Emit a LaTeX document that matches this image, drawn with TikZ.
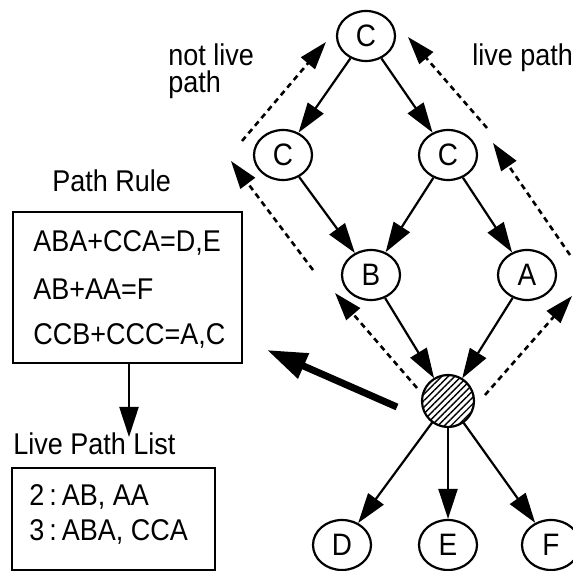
\documentclass[tikz,border=0pt]{standalone}
\usepackage{fontspec}
\setmainfont{Liberation Sans}[FakeStretch=0.9]
\usetikzlibrary{shapes.geometric,arrows.meta,patterns.meta}

\newcommand*\pixel{0.5pt}
\tikzset{
    vertex/.style={
        draw,
        ellipse,
        line width=1.1pt,
        inner sep=0pt,
        minimum width=29pt,
        minimum height=25pt,
        font=\fontsize{15.5}{18}\selectfont
    },
    hub/.style={
        draw,
        circle,
        line width=1.1pt,
        inner sep=0pt,
        minimum size=26pt,
        pattern={Lines[angle=45,distance=2.3pt,line width=0.7pt]}
    },
    link/.style={-{Triangle[length=15pt,width=9.5pt]}, line width=1.1pt},
    trace/.style={-{Triangle[length=14pt,width=9pt]}, line width=1.3pt, dash pattern=on 2.8pt off 2.2pt},
    query/.style={-{Triangle[length=20pt,width=13pt]}, line width=3.5pt},
    note/.style={anchor=base west, inner sep=0pt, align=left, font=\fontsize{15}{13.5}\selectfont},
    panel/.style={draw, line width=1.1pt, inner sep=0pt}
}

\begin{document}
\begin{tikzpicture}[x=\pixel,y=-\pixel]
    \useasboundingbox (0,0) rectangle (573,571);

    % First the path tree.
    \node[vertex] (topC) at (366,36) {C};
    \node[vertex] (leftC) at (283,155) {C};
    \node[vertex] (rightC) at (448,155) {C};
    \node[vertex] (B) at (371,275) {B};
    \node[vertex] (A) at (527,275) {A};
    \node[hub] (hub) at (448,401) {};
    \node[vertex] (D) at (342,545) {D};
    \node[vertex] (E) at (448,545) {E};
    \node[vertex] (F) at (551,545) {F};

    \draw[link] (topC) -- (leftC);
    \draw[link] (topC) -- (rightC);
    \draw[link] (leftC) -- (B);
    \draw[link] (rightC) -- (B);
    \draw[link] (rightC) -- (A);
    \draw[link] (B) -- (hub);
    \draw[link] (A) -- (hub);
    \draw[link] (hub) -- (D);
    \draw[link] (hub) -- (E);
    \draw[link] (hub) -- (F);

    % Dashed back traces, not live on the left and live on the right.
    \foreach \i/\xa/\ya/\xb/\yb in {1/417/388/335/293, 2/313/270/231/161, 3/242/141/326/42,
                                   4/485/395/572/296, 5/570/255/493/143, 6/487/128/408/37} {
        \coordinate (dash\i a) at (\xa,\ya);
        \coordinate (dash\i b) at (\xb,\yb);
        \draw[trace] (dash\i a) -- (dash\i b);
    }
    \node[note] (notlive) at (168,93) {not live\\path};
    \node[note] (live) at (472,66) {live path};

    % The rule box and the list box.
    \node[note] (ruletitle) at (52,192) {Path Rule};
    \node[panel, minimum width=114.5pt, minimum height=75.5pt] (rules) at (127.5,287.5) {};
    \foreach \y/\txt [count=\i] in {252/{ABA+CCA=D,E}, 300/{AB+AA=F}, 345/{CCB+CCC=A,C}}
        \node[note] (rule\i) at (33,\y) {\txt};

    \node[note] (listtitle) at (13,455) {Live Path List};
    \node[panel, minimum width=101.5pt, minimum height=51pt] (list) at (113.5,519) {};
    \foreach \y/\txt [count=\i] in {506/{2\,:\,AB, AA}, 540/{3\,:\,ABA, CCA}}
        \node[note] (entry\i) at (29,\y) {\txt};

    \coordinate (listtop) at (129,437);
    \draw[link] (rules.south -| listtop) -- (listtop);

    % Query arrow pointing back to the rules.
    \coordinate (qstart) at (397,407);
    \coordinate (qend) at (267,350);
    \draw[query] (qstart) -- (qend);

\end{tikzpicture}
\end{document}
